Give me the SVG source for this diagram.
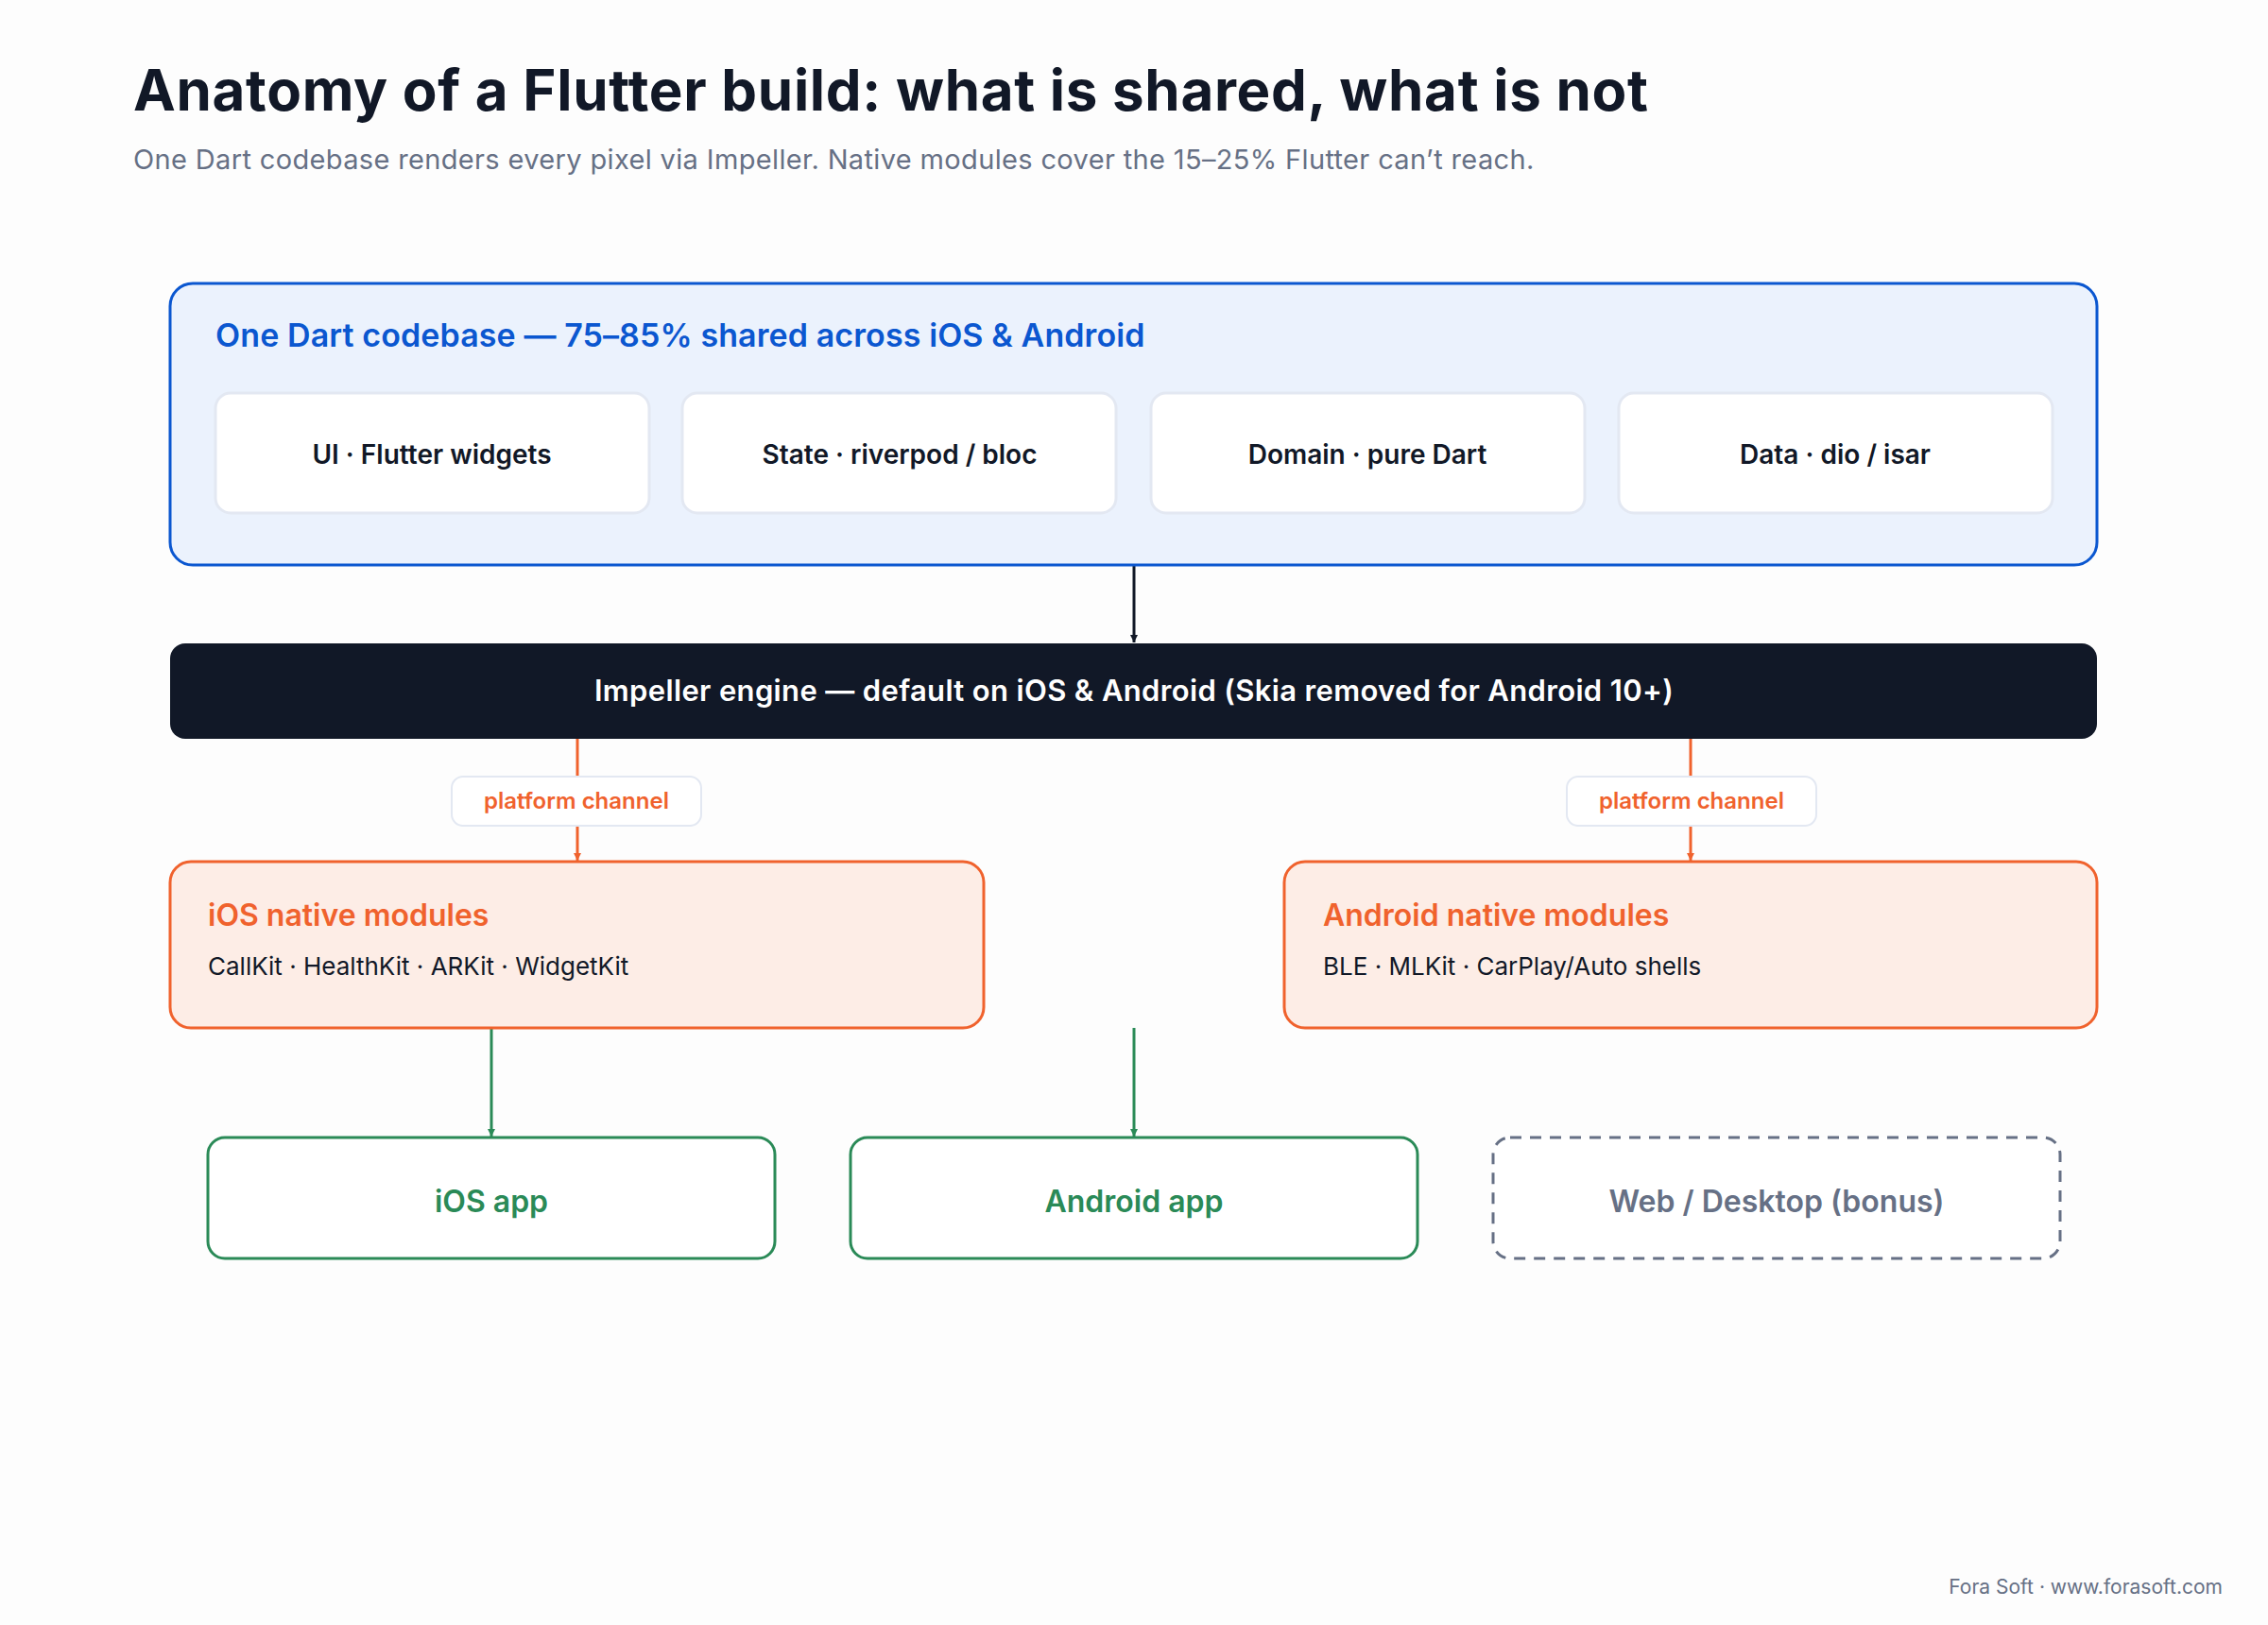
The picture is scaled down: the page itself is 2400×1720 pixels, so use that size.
<svg xmlns="http://www.w3.org/2000/svg" width="2400" height="1720" viewBox="0 0 2400 1720">
<defs>
<style>
text{font-family:Inter,"Noto Sans","Liberation Sans",sans-serif}
.chip{fill:#fff;stroke:#e3e8f2;stroke-width:3}
.chipt{font-size:28px;font-weight:600;fill:#111827;text-anchor:middle}
.pill{fill:#fff;stroke:#e3e8f2;stroke-width:2}
.pillt{font-size:24px;font-weight:600;fill:#f0622d;text-anchor:middle}
.nat{fill:#fdede6;stroke:#f0622d;stroke-width:3}
.natt{font-size:32px;font-weight:600;fill:#f0622d}
.nats{font-size:26px;fill:#111827}
.app{fill:#fff;stroke:#2a8a57;stroke-width:3}
.appt{font-size:32px;font-weight:600;fill:#2a8a57;text-anchor:middle}
</style>
<marker id="ak" markerWidth="10" markerHeight="12" refX="8" refY="5" orient="auto" markerUnits="userSpaceOnUse"><path d="M0,1 L8,5 L0,9 Z" fill="#111827"/></marker>
<marker id="ao" markerWidth="10" markerHeight="12" refX="8" refY="5" orient="auto" markerUnits="userSpaceOnUse"><path d="M0,1 L8,5 L0,9 Z" fill="#f0622d"/></marker>
<marker id="ag" markerWidth="10" markerHeight="12" refX="8" refY="5" orient="auto" markerUnits="userSpaceOnUse"><path d="M0,1 L8,5 L0,9 Z" fill="#2a8a57"/></marker>
</defs>
<rect width="2400" height="1720" fill="#fdfdfd"/>
<text x="141" y="117" font-size="60" font-weight="700" fill="#111827" letter-spacing="0.7">Anatomy of a Flutter build: what is shared, what is not</text>
<text x="141" y="179" font-size="29" fill="#667085" letter-spacing="0.35">One Dart codebase renders every pixel via Impeller. Native modules cover the 15–25% Flutter can’t reach.</text>

<g id="connectors" fill="none" stroke-width="3">
<line x1="1200" y1="598" x2="1200" y2="680" stroke="#111827" marker-end="url(#ak)"/>
<line x1="611" y1="782" x2="611" y2="911" stroke="#f0622d" marker-end="url(#ao)"/>
<line x1="1789" y1="782" x2="1789" y2="911" stroke="#f0622d" marker-end="url(#ao)"/>
<line x1="520" y1="1088" x2="520" y2="1203" stroke="#2a8a57" marker-end="url(#ag)"/>
<line x1="1200" y1="1088" x2="1200" y2="1203" stroke="#2a8a57" marker-end="url(#ag)"/>
<g id="pill-ios"><rect class="pill" x="478" y="822" width="264" height="52" rx="12"/><text class="pillt" x="610" y="856" stroke="none">platform channel</text></g>
<g id="pill-android"><rect class="pill" x="1658" y="822" width="264" height="52" rx="12"/><text class="pillt" x="1790" y="856" stroke="none">platform channel</text></g>
</g>

<g id="shared">
<rect x="180" y="300" width="2039" height="298" rx="24" fill="#ebf2fd" stroke="#0b57d0" stroke-width="3"/>
<text x="228" y="367" font-size="34" font-weight="600" fill="#0b57d0" letter-spacing="0.1">One Dart codebase — 75–85% shared across iOS &amp; Android</text>
</g>
<g id="ui"><rect class="chip" x="228" y="416" width="459" height="127" rx="16"/><text class="chipt" x="457" y="491">UI · Flutter widgets</text></g>
<g id="state"><rect class="chip" x="722" y="416" width="459" height="127" rx="16"/><text class="chipt" x="952" y="491">State · riverpod / bloc</text></g>
<g id="domain"><rect class="chip" x="1218" y="416" width="459" height="127" rx="16"/><text class="chipt" x="1447" y="491">Domain · pure Dart</text></g>
<g id="data"><rect class="chip" x="1713" y="416" width="459" height="127" rx="16"/><text class="chipt" x="1942" y="491">Data · dio / isar</text></g>

<g id="impeller">
<rect x="180" y="681" width="2039" height="101" rx="16" fill="#111827"/>
<text x="1200" y="742" font-size="31" font-weight="600" fill="#fff" text-anchor="middle" letter-spacing="0.35">Impeller engine — default on iOS &amp; Android (Skia removed for Android 10+)</text>
</g>

<g id="ios-native"><rect class="nat" x="180" y="912" width="861" height="176" rx="22"/><text class="natt" x="220" y="980">iOS native modules</text><text class="nats" x="220" y="1032">CallKit · HealthKit · ARKit · WidgetKit</text></g>
<g id="android-native"><rect class="nat" x="1359" y="912" width="860" height="176" rx="22"/><text class="natt" x="1400" y="980">Android native modules</text><text class="nats" x="1400" y="1032">BLE · MLKit · CarPlay/Auto shells</text></g>

<g id="ios-app"><rect class="app" x="220" y="1204" width="600" height="128" rx="18"/><text class="appt" x="520" y="1283">iOS app</text></g>
<g id="android-app"><rect class="app" x="900" y="1204" width="600" height="128" rx="18"/><text class="appt" x="1200" y="1283">Android app</text></g>
<g id="web"><rect x="1580" y="1204" width="600" height="128" rx="18" fill="#fff" stroke="#667085" stroke-width="3" stroke-dasharray="12 9"/><text x="1880" y="1283" font-size="32" font-weight="600" fill="#667085" text-anchor="middle">Web / Desktop (bonus)</text></g>

<text x="2352" y="1687" font-size="21" fill="#667085" text-anchor="end">Fora Soft · www.forasoft.com</text>
</svg>
